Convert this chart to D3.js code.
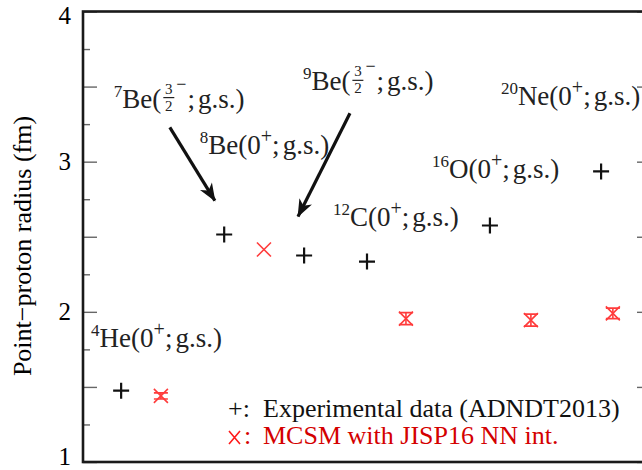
<!DOCTYPE html>
<html lang="en">
<head>
<meta charset="UTF-8">
<title>Point-proton radius</title>
<script src="https://d3js.org/d3.v7.min.js"></script>
<style>
  body { margin: 0; background: #fff; }
  svg { display: block; }
  svg text { font-family: "Liberation Serif", "Times New Roman", serif; }
</style>
</head>
<body>
<svg id="chart" width="642" height="470"></svg>
<script>
// experimental data (ADNDT2013): 4He, 7Be, 9Be, 12C, 16O, 20Ne
const expSlot = [0.94, 3.48, 5.45, 7.0, 10.03, 12.77];
const expRadius = [1.475, 2.515, 2.375, 2.335, 2.575, 2.935];

// MCSM with JISP16 NN int.
const mcsmSlot = [1.92, 4.46, 7.96, 11.04, 13.06];
const mcsmRadius = [1.44, 2.415, 1.955, 1.945, 1.99];
const mcsmErr = [0.02, 0, 0.04, 0.04, 0.035];

const yTicks = [1, 2, 3, 4];

// annotation texts
const nucMass = ["4", "7", "8", "9", "12", "16", "20"];
const nucSym = ["He", "Be", "Be", "Be", "C", "O", "Ne"];
const nucSpin = ["0+", "3/2-", "0+", "3/2-", "0+", "0+", "0+"];

const svg = d3.select("#chart");
const x = d3.scaleLinear().domain([0, 14]).range([83, 651]);
const y = d3.scaleLinear().domain([1, 4]).range([462, 11.5]);

const red = "#ff1a1a";

// ticks (inward, both sides)
const major = d3.range(1, 4.01, 0.5);
const minor = d3.range(1.25, 4, 0.5);
function ticks(axis, xpos, vals, len) {
  const g = svg.append("g").attr("transform", `translate(${xpos},0)`)
    .call(axis(y).tickValues(vals).tickSize(len).tickFormat(""));
  g.select(".domain").remove();
  g.selectAll("line").attr("stroke", "#666").attr("stroke-width", 1.4);
}
ticks(d3.axisRight, x(0), major, 14);
ticks(d3.axisRight, x(0), minor, 7);
ticks(d3.axisLeft, x(14), major, 14);
ticks(d3.axisLeft, x(14), minor, 7);

// frame
svg.append("rect")
  .attr("x", x(0)).attr("y", y(4))
  .attr("width", x(14) - x(0)).attr("height", y(1) - y(4))
  .attr("fill", "none").attr("stroke", "#1a1a1a").attr("stroke-width", 2.6);

// tick labels
svg.selectAll(".ylab").data(yTicks).enter().append("text")
  .attr("x", 71)
  .attr("y", d => Math.min(Math.max(y(d), 16), 457) + 8)
  .attr("text-anchor", "end")
  .attr("font-size", 25)
  .text(d => d);

svg.append("text")
  .attr("transform", "translate(31,246) rotate(-90)")
  .attr("text-anchor", "middle")
  .attr("font-size", 26)
  .text("Point\u2212proton radius (fm)");

// annotations
const labelPos = [[0.2, 1.765], [0.76, 3.36], [2.88, 3.05], [5.42, 3.475],
                  [6.16, 2.57], [8.6, 2.89], [10.3, 3.38]];
const ann = svg.append("g").attr("fill", "#222");
nucMass.forEach((m, i) => {
  let cx = x(labelPos[i][0]);
  const by = y(labelPos[i][1]);
  const put = (s, size, dy) => {
    const t = ann.append("text").attr("x", cx).attr("y", by + dy)
      .attr("font-size", size).text(s);
    cx += t.node().getComputedTextLength();
  };
  put(m, 17, -11);
  put(nucSym[i] + "(", 27, 0);
  const sp = nucSpin[i];
  if (sp.includes("/")) {
    const [n, d] = sp.slice(0, -1).split("/");
    cx += 2;
    ann.append("text").attr("x", cx + 5.5).attr("y", by - 14).attr("font-size", 15)
      .attr("text-anchor", "middle").text(n);
    ann.append("text").attr("x", cx + 5.5).attr("y", by + 3).attr("font-size", 15)
      .attr("text-anchor", "middle").text(d);
    ann.append("line").attr("x1", cx).attr("x2", cx + 11)
      .attr("y1", by - 10).attr("y2", by - 10)
      .attr("stroke", "#222").attr("stroke-width", 1.2);
    cx += 13;
    put("\u2212", 18, -18);
    cx += 1;
  } else {
    put(sp[0], 27, 0);
    put(sp[1], 20, -11);
  }
  put(";", 27, 0);
  cx += 3;
  put("g.s.)", 27, 0);
});

// arrows
svg.append("defs").append("marker")
  .attr("id", "head").attr("markerUnits", "userSpaceOnUse")
  .attr("viewBox", "-18 -8 20 16").attr("refX", 0).attr("refY", 0)
  .attr("markerWidth", 20).attr("markerHeight", 16).attr("orient", "auto")
  .append("path").attr("d", "M1,0L-17,-7L-12,0L-17,7Z").attr("fill", "#111");

const arrows = [[[2.14, 3.228], [3.25, 2.74]], [[6.58, 3.322], [5.3, 2.635]]];
arrows.forEach(a => {
  svg.append("line")
    .attr("x1", x(a[0][0])).attr("y1", y(a[0][1]))
    .attr("x2", x(a[1][0])).attr("y2", y(a[1][1]))
    .attr("stroke", "#111").attr("stroke-width", 3.2)
    .attr("marker-end", "url(#head)");
});

// experimental points
svg.selectAll(".exp").data(expSlot).enter().append("path")
  .attr("transform", (d, i) => `translate(${x(d)},${y(expRadius[i])})`)
  .attr("d", "M-8,0H8M0,-8V8")
  .attr("stroke", "#111").attr("stroke-width", 2.2).attr("fill", "none");

// MCSM points with error bars
const mcsm = mcsmSlot.map((s, i) => ({ s, r: mcsmRadius[i], e: mcsmErr[i] }));
const mc = svg.selectAll(".mcsm").data(mcsm).enter().append("g")
  .attr("transform", d => `translate(${x(d.s)},0)`)
  .attr("stroke", red).attr("stroke-width", 1.6).attr("fill", "none")
  .attr("opacity", 0.85);
mc.append("path")
  .attr("d", d => {
    const c = y(d.r);
    return `M-7,${c - 7}L7,${c + 7}M-7,${c + 7}L7,${c - 7}`;
  });
mc.filter(d => d.e > 0).append("path")
  .attr("d", d => {
    const lo = y(d.r - d.e), hi = y(d.r + d.e);
    return `M0,${lo}V${hi}M-7,${lo}H7M-7,${hi}H7`;
  });

// legend
svg.append("text").attr("x", 228).attr("y", 417).attr("font-size", 26)
  .attr("fill", "#111").text("+:");
svg.append("text").attr("x", 263).attr("y", 417).attr("font-size", 26)
  .attr("fill", "#111").text("Experimental data (ADNDT2013)");
svg.append("path").attr("d", "M229,431L240,444M229,444L240,431")
  .attr("stroke", red).attr("stroke-width", 1.6);
svg.append("text").attr("x", 244).attr("y", 444).attr("font-size", 26)
  .attr("fill", "#d40000").text(":");
svg.append("text").attr("x", 263).attr("y", 444).attr("font-size", 26)
  .attr("fill", "#d40000").text("MCSM with JISP16 NN int.");
</script>
</body>
</html>
